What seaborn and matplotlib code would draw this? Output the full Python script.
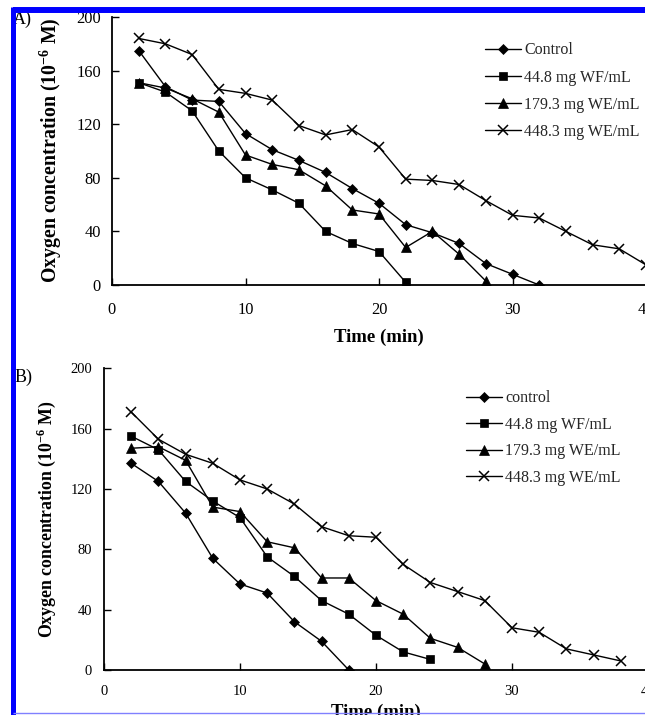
import numpy as np
import pandas as pd
import matplotlib
matplotlib.use("Agg")
import matplotlib.pyplot as plt
from matplotlib.lines import Line2D
import seaborn as sns

sns.set_theme(style="ticks")
plt.rcParams['font.family'] = ['Liberation Serif', 'DejaVu Serif']
plt.rcParams['mathtext.fontset'] = 'custom'
plt.rcParams['mathtext.rm'] = 'Liberation Serif'
plt.rcParams['mathtext.bf'] = 'Liberation Serif:bold'

# ---------------- Data ----------------
series_A = ["Control", "44.8 mg WF/mL", "179.3 mg WE/mL", "448.3 mg WE/mL"]
series_B = ["control", "44.8 mg WF/mL", "179.3 mg WE/mL", "448.3 mg WE/mL"]

# Panel A
a_control_t = [2, 4, 6, 8, 10, 12, 14, 16, 18, 20, 22, 24, 26, 28, 30, 32]
a_control_y = [175, 148, 138, 137, 113, 101, 93, 84, 72, 61, 45, 39, 31, 16, 8, 0]
a_wf_t = [2, 4, 6, 8, 10, 12, 14, 16, 18, 20, 22]
a_wf_y = [151, 144, 130, 100, 80, 71, 61, 40, 31, 25, 2]
a_we179_t = [2, 4, 6, 8, 10, 12, 14, 16, 18, 20, 22, 24, 26, 28]
a_we179_y = [151, 147, 139, 129, 97, 90, 86, 74, 56, 53, 28, 40, 23, 3]
a_we448_t = [2, 4, 6, 8, 10, 12, 14, 16, 18, 20, 22, 24, 26, 28, 30, 32, 34, 36, 38, 40]
a_we448_y = [184, 180, 172, 146, 143, 138, 119, 112, 116, 103, 79, 78, 75, 63, 52, 50, 40, 30, 27, 15]

# Panel B
b_control_t = [2, 4, 6, 8, 10, 12, 14, 16, 18]
b_control_y = [137, 125, 104, 74, 57, 51, 32, 19, 0]
b_wf_t = [2, 4, 6, 8, 10, 12, 14, 16, 18, 20, 22, 24]
b_wf_y = [155, 146, 125, 112, 101, 75, 62, 46, 37, 23, 12, 7]
b_we179_t = [2, 4, 6, 8, 10, 12, 14, 16, 18, 20, 22, 24, 26, 28]
b_we179_y = [147, 148, 139, 108, 105, 85, 81, 61, 61, 46, 37, 21, 15, 4]
b_we448_t = [2, 4, 6, 8, 10, 12, 14, 16, 18, 20, 22, 24, 26, 28, 30, 32, 34, 36, 38]
b_we448_y = [171, 153, 143, 137, 126, 120, 110, 95, 89, 88, 70, 58, 52, 46, 28, 25, 14, 10, 6]

x_ticks = [0, 10, 20, 30, 40]
y_ticks = [0, 40, 80, 120, 160, 200]


def make_df(names, ts, ys):
    frames = []
    for n, t, y in zip(names, ts, ys):
        frames.append(pd.DataFrame({"Time": t, "O2": y, "series": n}))
    return pd.concat(frames, ignore_index=True)


df_A = make_df(series_A, [a_control_t, a_wf_t, a_we179_t, a_we448_t],
               [a_control_y, a_wf_y, a_we179_y, a_we448_y])
df_B = make_df(series_B, [b_control_t, b_wf_t, b_we179_t, b_we448_t],
               [b_control_y, b_wf_y, b_we179_y, b_we448_y])

marker_list = ["D", "s", "^", "x"]
msizes = [5.5, 5.5, 6.5, 7]

W, H = 645, 715
fig = plt.figure(figsize=(W / 100, H / 100), dpi=100)
fig.patch.set_facecolor("white")

axA = fig.add_axes([112 / W, (H - 285) / H, (646 - 112) / W, 268 / H])
axB = fig.add_axes([104 / W, (H - 670) / H, 544 / W, 301.7 / H])


def draw(ax, df, names, ylabel_fs, tick_fs, xpad, ypad):
    for n, m, ms in zip(names, marker_list, msizes):
        sub = df[df["series"] == n]
        sns.lineplot(data=sub, x="Time", y="O2", ax=ax, color="black",
                     marker=m, markersize=ms, linewidth=1.0,
                     markeredgecolor="black", markeredgewidth=1.1 if m == "x" else 0.5,
                     label=n, estimator=None, sort=False)
    ax.set_xlim(0, 40)
    ax.set_ylim(0, 200)
    ax.set_xticks(x_ticks)
    ax.set_yticks(y_ticks)
    ax.set_facecolor("white")
    for s in ["top", "right"]:
        ax.spines[s].set_visible(False)
    for s in ["left", "bottom"]:
        ax.spines[s].set_color("black")
        ax.spines[s].set_linewidth(1.3)
    ax.spines["bottom"].set_clip_on(False)
    ax.tick_params(axis="x", direction="in", length=5, width=1, pad=xpad,
                   labelsize=tick_fs, colors="black")
    ax.tick_params(axis="y", direction="in", length=5, width=1, pad=ypad,
                   labelsize=tick_fs, colors="black")
    ax.set_ylabel(r"Oxygen concentration (10$^{\mathbf{-6}}$ M)", fontsize=ylabel_fs,
                  fontweight="bold", color="black")
    ax.set_xlabel("Time (min)", fontsize=13.5, fontweight="bold", color="black")
    ax.grid(False)


draw(axA, df_A, series_A, 14.3, 11.8, 12.5, 8.0)
draw(axB, df_B, series_B, 12.8, 10.5, 11, 8.5)

axA.yaxis.set_label_coords(-0.090, 0.504)
axA.xaxis.set_label_coords(0.5, -0.164)
axB.yaxis.set_label_coords(-0.085, 0.5)
axB.xaxis.set_label_coords(0.5, -0.113)

legA = axA.legend(loc="upper left", bbox_to_anchor=((483 - 112) / 534 - 0.008, (285 - 36) / 268),
                  frameon=False, fontsize=11.5, handlelength=2.25, handletextpad=0.2,
                  labelspacing=0.7, borderaxespad=0)
legB = axB.legend(loc="upper left", bbox_to_anchor=((464 - 104) / 544 - 0.008, (670 - 384) / 301.7),
                  frameon=False, fontsize=11.5, handlelength=2.25, handletextpad=0.2,
                  labelspacing=0.65, borderaxespad=0)

fig.text(13 / W, 1 - 19 / H, "A)", fontsize=13, ha="left", va="center", color="black")
fig.text(15 / W, 1 - 377 / H, "B)", fontsize=13, ha="left", va="center", color="black")

# blue frame lines
fig.add_artist(Line2D([12.5 / W, 1.0], [1 - 10 / H, 1 - 10 / H], transform=fig.transFigure,
                      color="#0000ff", linewidth=4.3, zorder=10, solid_capstyle="butt"))
fig.add_artist(Line2D([12.5 / W, 12.5 / W], [0, 1 - 7 / H], transform=fig.transFigure,
                      color="#0000ff", linewidth=3.6, zorder=10, solid_capstyle="butt"))
fig.add_artist(Line2D([12.5 / W, 1.0], [2.5 / H, 2.5 / H], transform=fig.transFigure,
                      color="#8080ff", linewidth=1.0, zorder=10, solid_capstyle="butt"))

fig.savefig("out.png", dpi=100, facecolor="white")
